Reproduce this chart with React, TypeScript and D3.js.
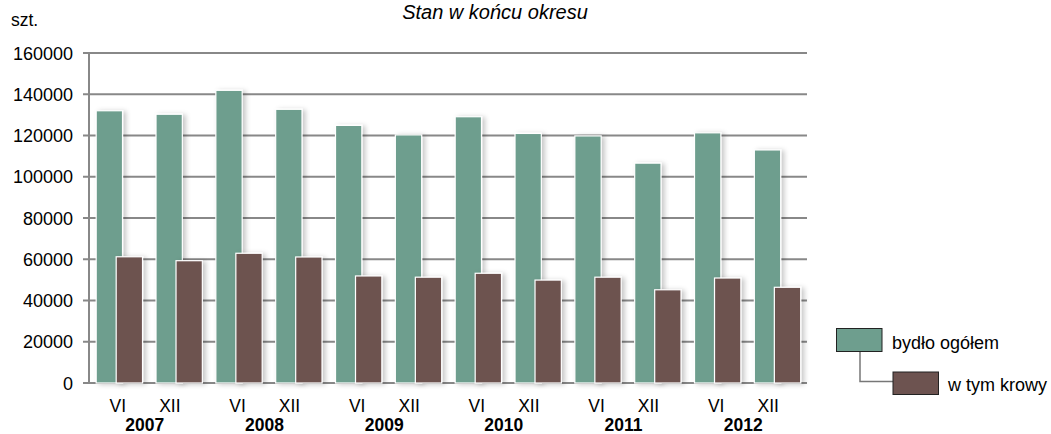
import React from "react";
import * as d3 from "d3";

const years = ["2007", "2008", "2009", "2010", "2011", "2012"];
const halves = ["VI", "XII"];
const bydlo = [132000, 130300, 141900, 132700, 124900, 120300, 129100, 121000, 119800, 106600, 121300, 113000];
const krowy = [61200, 59300, 62900, 61100, 51900, 51300, 53200, 49900, 51300, 45200, 50900, 46400];
const yTicks = [0, 20000, 40000, 60000, 80000, 100000, 120000, 140000, 160000];
const seriesNames = ["bydło ogółem", "w tym krowy"];
const colors = ["#6e9e8e", "#6d5350"];

const W = 1051;
const H = 434;
const m = { left: 89, right: 244, top: 53, bottom: 51 };

export default function App() {
  const cats = years.flatMap((y) => halves.map((h) => `${y}-${h}`));
  const x = d3.scaleBand().domain(cats).range([m.left, W - m.right]).paddingInner(0).paddingOuter(0);
  const y = d3.scaleLinear().domain([0, 160000]).range([H - m.bottom, m.top]);
  const bw = x.bandwidth();
  const barW = bw * 0.44;
  const fs = "'Liberation Sans', Arial, sans-serif";

  return (
    <svg width={W} height={H} style={{ position: "absolute", left: 0, top: 0, fontFamily: fs }}>
      <defs>
        <filter id="sh" x="-30%" y="-10%" width="160%" height="120%">
          <feDropShadow dx="3" dy="1" stdDeviation="2.5" floodColor="#000" floodOpacity="0.22" />
        </filter>
      </defs>
      <rect width={W} height={H} fill="#fff" />
      <text x={11} y={26} fontSize={17.5} fill="#000">szt.</text>
      <text x={495} y={18.5} fontSize={20} fontStyle="italic" textAnchor="middle" fill="#000">Stan w końcu okresu</text>

      {yTicks.map((t) => (
        <g key={t}>
          <line x1={m.left - 6} x2={W - m.right} y1={y(t)} y2={y(t)} stroke="#888" strokeWidth={2} />
          <text x={73} y={y(t) + 6.5} fontSize={18} textAnchor="end" fill="#000">{t}</text>
        </g>
      ))}
      <line x1={m.left} x2={m.left} y1={m.top} y2={y(0)} stroke="#888" strokeWidth={2} />

      {cats.map((c, i) => {
        const x0 = (x(c) as number) + bw * 0.12;
        return (
          <g key={c}>
            <rect x={x0} y={y(bydlo[i])} width={barW} height={y(0) - y(bydlo[i])} fill={colors[0]} stroke="#fff" strokeWidth={1.2} filter="url(#sh)" />
            <rect x={x0 + barW * 0.76} y={y(krowy[i])} width={barW} height={y(0) - y(krowy[i])} fill={colors[1]} stroke="#fff" strokeWidth={1.2} filter="url(#sh)" />
          </g>
        );
      })}

      {years.map((yr) => {
        const gc = (x(`${yr}-VI`) as number) + bw;
        return (
          <g key={yr} fontSize={17.5} fill="#000">
            <text x={gc - 31} y={412} textAnchor="middle">VI</text>
            <text x={gc + 21} y={412} textAnchor="middle">XII</text>
            <text x={gc - 4} y={431} textAnchor="middle" fontWeight="bold">{yr}</text>
          </g>
        );
      })}

      <g>
        <path d="M860,351 V381.5 H893" fill="none" stroke="#777" strokeWidth={1.5} />
        <rect x={836.5} y={328.5} width={45.5} height={23} fill={colors[0]} stroke="#222" strokeWidth={1} />
        <text x={892} y={349} fontSize={18} fill="#000">{seriesNames[0]}</text>
        <rect x={893} y={372} width={45.5} height={22.5} fill={colors[1]} stroke="#222" strokeWidth={1} />
        <text x={948} y={391} fontSize={18} fill="#000">{seriesNames[1]}</text>
      </g>
    </svg>
  );
}
